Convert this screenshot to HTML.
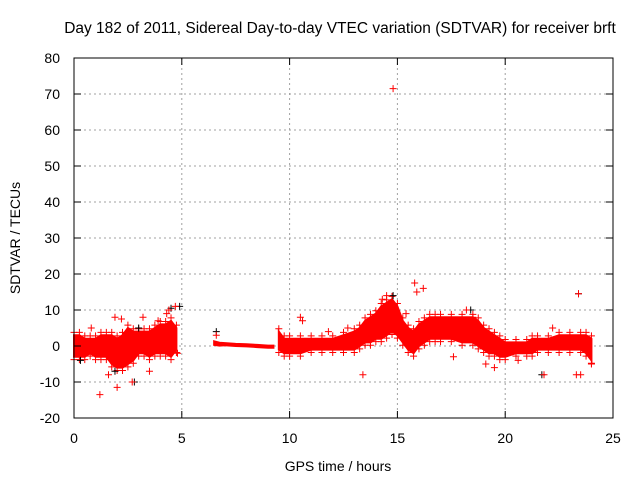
<!DOCTYPE html>
<html><head><meta charset="utf-8"><style>
body{margin:0;background:#fff}
svg{display:block;font-family:"Liberation Sans",sans-serif}
</style></head><body>
<svg id="chart" width="640" height="480" viewBox="0 0 640 480">
<rect width="640" height="480" fill="#fff"/>
<text x="340" y="33" font-size="15.5" text-anchor="middle">Day 182 of 2011, Sidereal Day-to-day VTEC variation (SDTVAR) for receiver brft</text>
<g id="grid"></g><g id="bands"></g><g id="marks"></g><g id="axes"></g>
<text x="338" y="471" font-size="14" text-anchor="middle">GPS time / hours</text>
<text transform="translate(20,238) rotate(-90)" font-size="14" text-anchor="middle">SDTVAR / TECUs</text>
</svg>
<script>
const xTicks=[0,5,10,15,20,25];
const yTicks=[-20,-10,0,10,20,30,40,50,60,70,80];
// band sections: times, centre, high, low
const seg1T=[0,0.25,0.5,0.75,1,1.25,1.5,1.75,2,2.25,2.5,2.75,3,3.25,3.5,3.75,4,4.25,4.5,4.75];
const seg1C=[0,0,0,0,0,0,0,-1,-2,-1,0,0,1,1,1,1,2,2,2,1];
const seg1H=[3,3,2,2,2,3,3,3,2,3,5,4,4,4,4,5,6,6,7,5];
const seg1L=[-3,-3,-3,-2,-3,-3,-3,-5,-6,-6,-5,-4,-2,-2,-3,-2,-2,-2,-3,-1];
const seg2T=[6.5,6.75,7,7.5,8,8.5,9,9.25];
const seg2C=[0.8,0.5,0.5,0.3,0.2,0,-0.2,-0.2];
const seg2H=[1.3,0.9,0.8,0.6,0.5,0.3,0.1,0.1];
const seg2L=[0.3,0.1,0.2,0,-0.1,-0.3,-0.5,-0.5];
const seg3T=[9.5,9.75,10,10.5,11,11.5,12,12.5,13,13.25,13.5,13.75,14,14.25,14.5,14.75,15,15.25,15.5,15.75,16,16.25,16.5,16.75,17,17.5,18,18.5,18.75,19,19.25,19.5,19.75,20,20.5,21,21.25,21.5,22,22.5,23,23.5,23.75,24];
const seg3C=[1,0,0,0,0,0.5,0.5,1,1,2,4,5,6,7,8,9,7,4,2,1,3,4,5,5,5,5,5,5,4,2,1,0,-1,-1,-1,-1,0,0,0,1,1,1,1,0];
const seg3H=[4,2,2,2,2,2,2,3,4,5,7,8,9,11,12,13,11,7,5,4,6,7,8,8,8,8,8,8,7,5,4,3,2,1,1,1,2,2,2,3,3,3,3,2];
const seg3L=[-1,-2,-2,-2,-1,-1,-1,-1,-1,0,1,1,2,2,3,4,3,1,-1,-2,0,1,2,2,2,2,1,1,0,-1,-2,-2,-3,-3,-2,-2,-2,-1,-1,-1,-1,-1,-2,-4];
const outT=[14.8,1.2,2.0,1.9,2.2,2.7,3.2,3.5,4.3,4.4,4.7,4.8,6.6,10.6,10.5,13.4,14.3,14.5,15.8,15.9,16.2,15.4,17.6,18.2,18.5,19.5,19.1,21.8,22.2,23.4,23.3,23.5,24,0.8,1.6,3.9,11.8,12.7,20.6];
const outV=[71.5,-13.5,-11.5,8,7.5,-10,8,-7,9,10,11,-2,3,7,8,-8,13,14,17.5,15,16,9,-3,10,8,-6,-5,-8,5,14.5,-8,-8,-5,5,-8,7,4,5,-4];
const blkT=[4.9,4.5,2.8,6.6,18.4,23.4,21.7,14.8,1.9,0.3,3.0];
const blkV=[11,10.5,-10,4,10,14.5,-8,14,-7,-4,5];
const X=t=>74+t*(613-74)/25, Y=v=>418-(v+20)*3.6;
const NS="http://www.w3.org/2000/svg";
function mk(tag,at,parent){const e=document.createElementNS(NS,tag);for(const k in at)e.setAttribute(k,at[k]);document.getElementById(parent).appendChild(e);return e;}
xTicks.forEach((t,i)=>{
 if(i>0&&i<xTicks.length-1){const g=mk('line',{x1:X(t),x2:X(t),y1:58,y2:418,stroke:'#a0a0a0','stroke-dasharray':'2,3'},'grid');
 
 }
 const tl=mk('text',{x:X(t),y:443,'font-size':14,'text-anchor':'middle'},'axes');tl.textContent=t;
 
 
 mk('line',{x1:X(t),x2:X(t),y1:418,y2:411,stroke:'#000'},'axes');
 mk('line',{x1:X(t),x2:X(t),y1:58,y2:65,stroke:'#000'},'axes');
});
yTicks.forEach((v,i)=>{
 if(i>0&&i<yTicks.length-1){const g=mk('line',{x1:74,x2:613,y1:Y(v),y2:Y(v),stroke:'#a0a0a0','stroke-dasharray':'2,3'},'grid');
 
 }
 const tl=mk('text',{x:60,y:Y(v)+5,'font-size':14,'text-anchor':'end'},'axes');tl.textContent=v;
 
 
 mk('line',{x1:74,x2:81,y1:Y(v),y2:Y(v),stroke:'#000'},'axes');
 mk('line',{x1:613,x2:606,y1:Y(v),y2:Y(v),stroke:'#000'},'axes');
});
const fr=mk('rect',{x:74,y:58,width:539,height:360,fill:'none',stroke:'#000'},'axes');


function plus(t,v,col,name){const p=mk('path',{d:`M${X(t)-3.5},${Y(v)}h7M${X(t)},${Y(v)-3.5}v7`,stroke:col,'stroke-width':1},'marks');
 
 }
[[seg1T,seg1C,seg1H,seg1L,0.8],[seg2T,seg2C,seg2H,seg2L,0],[seg3T,seg3C,seg3H,seg3L,0.8]].forEach(([T,C,H,L,off],k)=>{
 const pts=T.map((t,i)=>X(t)+','+Y(H[i])).concat(T.map((t,i)=>X(t)+','+Y(L[i])).reverse());
 const b=mk('polygon',{points:pts.join(' '),fill:'#ff0000',stroke:'#ff0000','stroke-width':2},'bands');
 
 
 if(off>0)T.forEach((t,i)=>{plus(t,H[i]+off,'#ff0000','data-point');plus(t,L[i]-off,'#ff0000','data-point');});
});
blkT.forEach((t,i)=>plus(t,blkV[i],'#000','data-point-black'));
outT.forEach((t,i)=>plus(t,outV[i],'#ff0000','outlier-point'));
</script>
</body></html>
